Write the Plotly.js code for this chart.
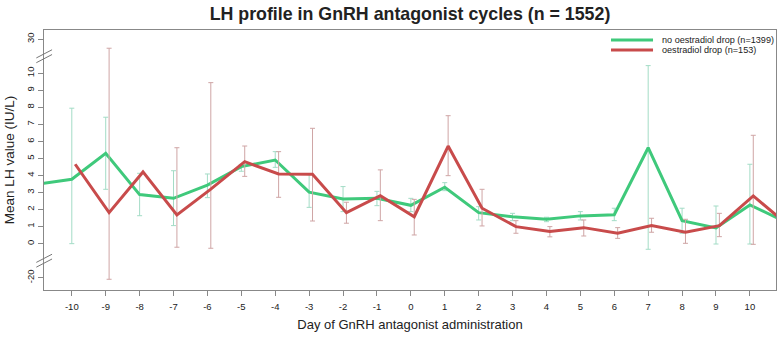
<!DOCTYPE html>
<html><head><meta charset="utf-8">
<script src="https://cdn.plot.ly/plotly-3.0.1.min.js"></script>
<style>html,body{margin:0;padding:0;background:#fff}#chart{width:779px;height:337px}</style>
</head><body><div id="chart"></div>
<script>
// ---- data (real units, IU/L) ----
var days = [-11,-10,-9,-8,-7,-6,-5,-4,-3,-2,-1,0,1,2,3,4,5,6,7,8,9,10,11];
var noDropMean  = [3.49,3.78,5.30,2.88,2.66,3.44,4.52,4.91,3.02,2.62,2.66,2.25,3.31,1.82,1.58,1.43,1.63,1.70,5.63,1.35,0.92,2.27,1.33];
var noDropUpper = [null,7.95,7.42,4.13,4.28,4.09,4.65,5.40,4.05,3.35,3.07,2.66,3.58,2.17,1.78,1.55,1.88,2.08,14.5,2.08,2.21,4.66,null];
var noDropLower = [null,0.00,3.19,1.64,1.06,2.70,4.25,4.48,2.13,1.88,2.23,1.88,3.11,1.39,1.35,1.29,1.39,1.35,-3.3,0.61,-0.2,-0.2,null];
var dropMean  = [null,4.66,1.82,4.21,1.68,3.20,4.81,4.09,4.07,1.82,2.82,1.58,5.73,2.08,1.00,0.72,0.94,0.61,1.06,0.67,1.06,2.80,1.13];
var dropUpper = [null,null,24.7,null,5.63,9.45,5.73,5.40,6.77,2.43,4.33,2.60,7.51,3.19,1.35,1.00,1.39,0.94,1.49,1.43,1.78,6.36,null];
var dropLower = [null,null,-20.9,null,-2.1,-2.7,3.95,2.72,1.33,1.20,1.35,0.51,3.99,1.04,0.61,0.40,0.45,0.31,0.67,0.02,0.41,-0.4,null];
var xTicks = [-10,-9,-8,-7,-6,-5,-4,-3,-2,-1,0,1,2,3,4,5,6,7,8,9,10];
var yTicks = [-20,0,1,2,3,4,5,6,7,8,9,10,30];
var seriesNames = ['no oestradiol drop (n=1399)','oestradiol drop (n=153)'];

// broken-axis transform: 0..10 linear, above 10 and below 0 compressed 10x
function brk(v){ if(v===null) return null; if(v>10) return 10+(v-10)/10; if(v<0) return v/10; return v; }
function errs(mean, up, lo){
  var p=[], m=[];
  for(var i=0;i<mean.length;i++){
    if(up[i]===null||mean[i]===null){p.push(NaN);m.push(NaN);continue;}
    p.push(brk(up[i])-brk(mean[i])); m.push(brk(mean[i])-brk(lo[i]));
  }
  return [p,m];
}
var gE = errs(noDropMean,noDropUpper,noDropLower);
var rE = errs(dropMean,dropUpper,dropLower);
var GREEN='#3fc97b', RED='#c84b4b', GERR='#a3dcc6', RERR='#cfa5a5';

var traces = [
 {x: days, y: noDropMean.map(brk), type:'scatter', mode:'lines', name:seriesNames[0],
  line:{color:GREEN,width:3}, connectgaps:false,
  error_y:{type:'data', symmetric:false, array:gE[0], arrayminus:gE[1], color:GERR, thickness:1, width:2.5}},
 {x: days.map(function(d){return d+0.1;}), y: dropMean.map(brk), type:'scatter', mode:'lines', name:seriesNames[1],
  line:{color:RED,width:3}, connectgaps:false,
  error_y:{type:'data', symmetric:false, array:rE[0], arrayminus:rE[1], color:RERR, thickness:1, width:2.5}}
];

var F = 'Liberation Sans, Arial, sans-serif';
var shapes = [], annotations = [];
// axis break marks
[11,-1].forEach(function(c){
  [-0.14,0.14].forEach(function(o){
    shapes.push({type:'line', xref:'paper', yref:'y', x0:-0.0105, x1:0.011, y0:c+o-0.24, y1:c+o+0.24,
      line:{color:'#777',width:1}});
  });
});
// legend (manual)
var legY = [0.9615, 0.923], legC=[GREEN,RED];
for(var k=0;k<2;k++){
  shapes.push({type:'line', xref:'paper', yref:'paper', x0:0.7746, x1:0.832, y0:legY[k], y1:legY[k], line:{color:legC[k],width:3}});
  annotations.push({xref:'paper', yref:'paper', x:0.8429, y:legY[k], xanchor:'left', yanchor:'middle', showarrow:false,
    text:seriesNames[k], font:{family:F,size:9.1,color:'#222'}, borderpad:0});
}

var layout = {
  width:779, height:337, margin:{l:44,r:3,t:30,b:47},
  paper_bgcolor:'#fff', plot_bgcolor:'#fff', showlegend:false,
  font:{family:F, color:'#222'},
  title:{text:'<b>LH profile in GnRH antagonist cycles (n = 1552)</b>', font:{family:F,size:17.8,color:'#222'},
    x:0.5, xref:'paper', y:0.958, yref:'container', yanchor:'middle'},
  xaxis:{range:[-10.82,10.77], tickvals:xTicks, ticktext:xTicks.map(String), ticks:'outside', ticklen:5,
    tickcolor:'#888', showline:true, linecolor:'#888', mirror:true, showgrid:false, zeroline:false,
    tickfont:{family:F,size:9.5,color:'#222'}, ticklabelstandoff:3,
    title:{text:'Day of GnRH antagonist administration', font:{family:F,size:13,color:'#222'}, standoff:8}},
  yaxis:{range:[-2.72,12.54], tickvals:yTicks.map(brk), ticktext:yTicks.map(String), ticks:'outside', ticklen:5,
    tickcolor:'#888', showline:true, linecolor:'#888', mirror:true, showgrid:false, zeroline:false,
    tickangle:-90, tickfont:{family:F,size:9.5,color:'#222'},
    title:{text:'Mean LH value (IU/L)', font:{family:F,size:13.5,color:'#222'}, standoff:7}},
  shapes:shapes, annotations:annotations
};
Plotly.newPlot('chart', traces, layout, {displayModeBar:false, staticPlot:true});
</script></body></html>
